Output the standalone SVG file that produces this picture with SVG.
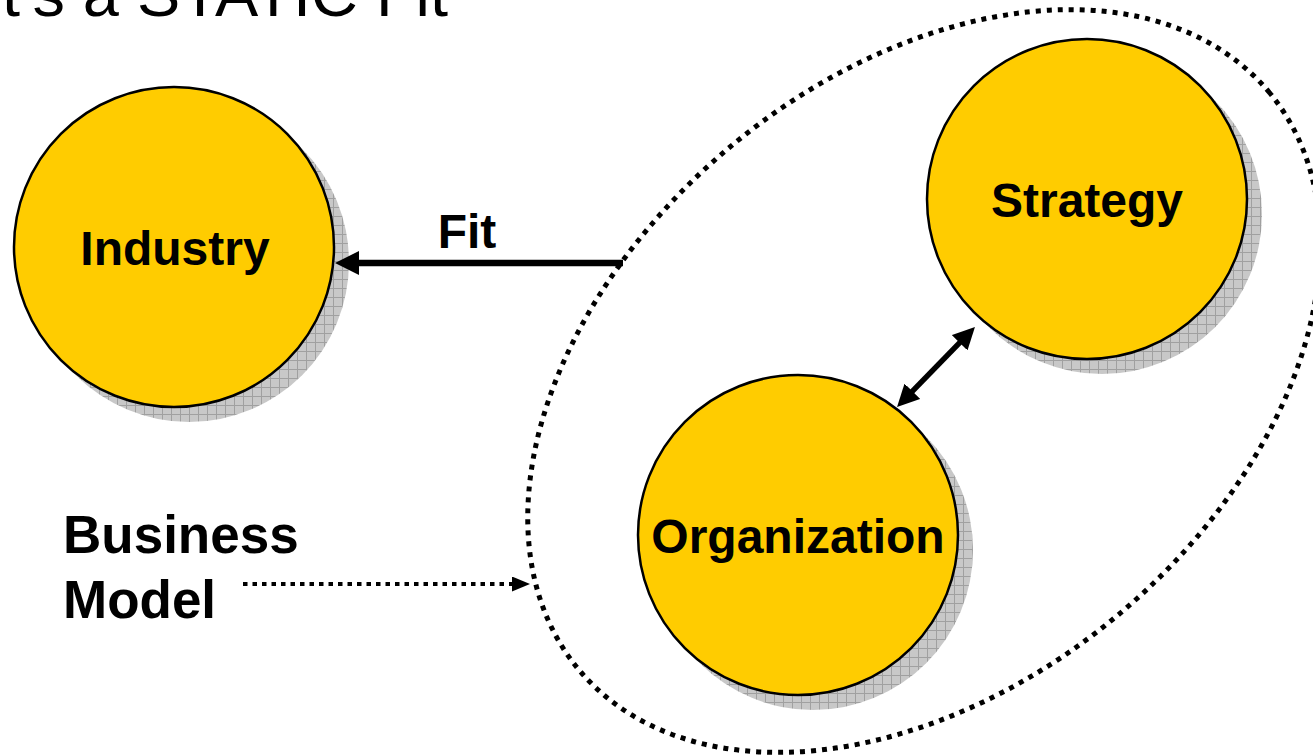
<svg xmlns="http://www.w3.org/2000/svg" width="1313" height="755" viewBox="0 0 1313 755">
  <defs>
    <style>
      .title { font-family: "Liberation Sans", Arial, sans-serif; font-size: 63.5px; fill: #000; }
      .label { font-family: "Liberation Sans", Arial, sans-serif; font-weight: bold; font-size: 48px; fill: #000; text-anchor: middle; }
      .side { font-family: "Liberation Sans", Arial, sans-serif; font-weight: bold; font-size: 53px; fill: #000; }
      .disc { fill: #FFCC00; stroke: #000; stroke-width: 2.5; }
      .shadow { fill: url(#hatch); }
      .solid { stroke: #000; fill: none; }
    </style>
    <!-- cross-hatched grey used for the drop shadows -->
    <pattern id="hatch" width="9" height="9" patternUnits="userSpaceOnUse">
      <rect width="9" height="9" fill="#c8c8c8"/>
      <path d="M0 0.5 H9 M0.5 0 V9" stroke="#a0a0a0" stroke-width="1"/>
    </pattern>
    <marker id="headBig" viewBox="0 0 24 24" markerWidth="24" markerHeight="24" refX="4" refY="12" markerUnits="userSpaceOnUse" orient="auto-start-reverse">
      <path d="M0 0 L24 12 L0 24 Z" fill="#000"/>
    </marker>
    <marker id="headMid" viewBox="0 0 22 22" markerWidth="22" markerHeight="22" refX="4" refY="11" markerUnits="userSpaceOnUse" orient="auto-start-reverse">
      <path d="M0 0 L22 11 L0 22 Z" fill="#000"/>
    </marker>
    <marker id="headSmall" viewBox="0 0 18 15" markerWidth="18" markerHeight="15" refX="0" refY="7.5" markerUnits="userSpaceOnUse" orient="auto">
      <path d="M0 0 L18 7.5 L0 15 Z" fill="#000"/>
    </marker>
  </defs>

  <rect width="1313" height="755" fill="#fff"/>

  <text class="title" x="2" y="16" textLength="446" lengthAdjust="spacingAndGlyphs">t's a STATIC Fit</text>

  <!-- dotted boundary of the business model -->
  <g id="business-model-boundary">
    <ellipse cx="924" cy="381" rx="450" ry="304" transform="rotate(-40 924 381)" fill="none" stroke="#000" stroke-width="5" stroke-dasharray="5 6"/>
  </g>

  <g id="industry">
    <circle class="shadow" cx="189" cy="262" r="160"/>
    <circle class="disc" cx="174" cy="247" r="160"/>
    <text class="label" x="175" y="265">Industry</text>
  </g>

  <g id="strategy">
    <circle class="shadow" cx="1102" cy="214" r="160"/>
    <circle class="disc" cx="1087" cy="199" r="160"/>
    <text class="label" x="1087" y="217">Strategy</text>
  </g>

  <g id="organization">
    <circle class="shadow" cx="813" cy="550" r="160"/>
    <circle class="disc" cx="798" cy="535" r="160"/>
    <text class="label" x="798" y="553">Organization</text>
  </g>

  <g id="business-model-label">
    <text class="side" x="63" y="553">Business</text>
    <text class="side" x="63" y="618">Model</text>
  </g>

  <g id="connectors">
    <!-- Fit: business model towards industry -->
    <line class="solid" x1="623" y1="263" x2="355" y2="263" stroke-width="6.5" marker-end="url(#headBig)"/>
    <text class="label" x="467" y="248" font-size="49">Fit</text>
    <!-- strategy and organization, both ways -->
    <line class="solid" x1="909.6" y1="394.1" x2="962.4" y2="339.9" stroke-width="5.5" marker-start="url(#headMid)" marker-end="url(#headMid)"/>
    <!-- label pointer to the dotted boundary -->
    <line x1="243" y1="584" x2="512" y2="584" stroke="#000" stroke-width="4" stroke-dasharray="4.5 5" marker-end="url(#headSmall)"/>
  </g>
</svg>
